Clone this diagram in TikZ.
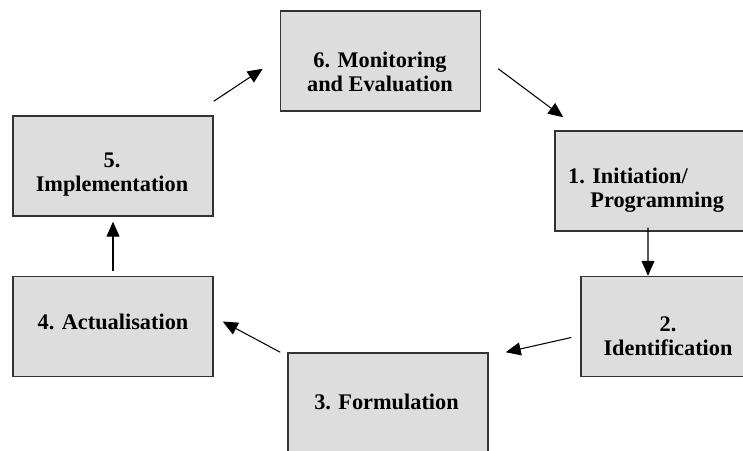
\documentclass[tikz,border=0pt]{standalone}
\usepackage{fontspec}
\setmainfont{Liberation Serif}
\usetikzlibrary{arrows.meta}
\definecolor{BoxFill}{HTML}{DDDDDD}
\definecolor{BoxLine}{HTML}{333333}

\begin{document}
\begin{tikzpicture}[
	% Style for the grey stage boxes
	stage box/.style={
		rectangle,
		draw=BoxLine,
		fill=BoxFill,
		line width=0.85pt,
		minimum width=4cm,
		minimum height=2cm,
		inner sep=0pt
	},
	% Style for the stage captions
	stage text/.style={
		font=\fontsize{12.7}{13.7}\selectfont\bfseries,
		align=center,
		inner sep=0pt
	},
	% Style for the arrows between stages
	cycle arrow/.style={
		draw=black,
		line width=0.6pt,
		-{Triangle[length=0.3cm,width=0.26cm]}
	}
	]
	
	\useasboundingbox (0,0) rectangle (14.86,9);
	\clip (0,0) rectangle (14.86,9);
	
	% 1. Boxes of the cycle
	\node[stage box] (b6) at (7.61, 7.78) {};
	\node[stage box] (b1) at (13.1, 5.38) {};
	\node[stage box] (b2) at (13.62, 2.47) {};
	\node[stage box] (b3) at (7.76, 0.94) {};
	\node[stage box] (b4) at (2.26, 2.47) {};
	\node[stage box] (b5) at (2.26, 5.68) {};
	
	% 2. Captions
	\node[stage text] (t6) at (7.6, 7.56) {6. Monitoring\\and Evaluation};
	\node[stage text, align=left] (t1) at (12.92, 5.2) {1. Initiation/\\\hspace*{1em}Programming};
	\node[stage text] (t2) at (13.36, 2.28) {2.\\Identification};
	\node[stage text] (t3) at (7.73, 0.96) {3. Formulation};
	\node[stage text] (t4) at (2.26, 2.56) {4. Actualisation};
	\node[stage text] (t5) at (2.24, 5.5) {5.\\Implementation};
	
	% 3. Arrows round the cycle
	\draw[cycle arrow] ([shift={(0,0.28)}]b5.north east) -- ([shift={(-0.34,0.86)}]b6.south west);
	\draw[cycle arrow] ([shift={(0.34,0.86)}]b6.south east) -- ([shift={(0.18,0.26)}]b1.north west);
	\draw[cycle arrow] ([shift={(-0.14,0.08)}]b1.south) -- ([shift={(-0.66,0)}]b2.north);
	\draw[cycle arrow] ([shift={(-0.18,-0.22)}]b2.west) -- ([shift={(0.34,0)}]b3.north east);
	\draw[cycle arrow] ([shift={(-0.14,0)}]b3.north west) -- ([shift={(0.18,0.1)}]b4.east);
	\draw[cycle arrow] ([shift={(0,0.1)}]b4.north) -- ([shift={(0,-0.1)}]b5.south);
	
\end{tikzpicture}
\end{document}
